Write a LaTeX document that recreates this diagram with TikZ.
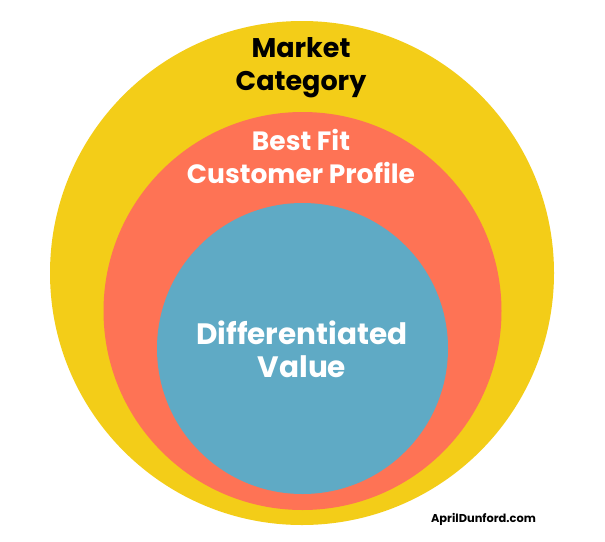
\documentclass[tikz,border=0pt]{standalone}
\usepackage{fontspec}
\setmainfont{Poppins}
\usetikzlibrary{positioning}

\definecolor{catyellow}{HTML}{F3CD18}
\definecolor{fitorange}{HTML}{FE7355}
\definecolor{valueblue}{HTML}{5FAAC5}

\begin{document}
\begin{tikzpicture}[x=1pt, y=-1pt,
  ring/.style={circle, inner sep=0pt, draw=none},
  label/.style={align=center, anchor=base, font=\bfseries\fontsize{#1}{33}\selectfont}]
  \useasboundingbox[fill=white] (0,0) rectangle (605,541);

  % Nested circles
  \node[ring, fill=catyellow, minimum size=504pt] (market) at (302,273) {};
  \node[ring, fill=fitorange, minimum size=398pt] (fit) at (302.5,311) {};
  \node[ring, fill=valueblue, minimum size=291pt] (value) at (302.5,348.5) {};

  % Labels (anchored at the baseline of the last line)
  \node[label=27, text=black] (markettext) at (301,90) {Market\\Category};
  \node[label=26.5, text=white] (fittext) at (301,183) {Best Fit\\Customer Profile};
  \node[label=29.5, text=white] (valuetext) at (302,377) {Differentiated\\Value};

  \node[anchor=base, font=\bfseries\fontsize{11.4}{14}\selectfont] (site) at (483.5,522) {AprilDunford.com};
\end{tikzpicture}
\end{document}
